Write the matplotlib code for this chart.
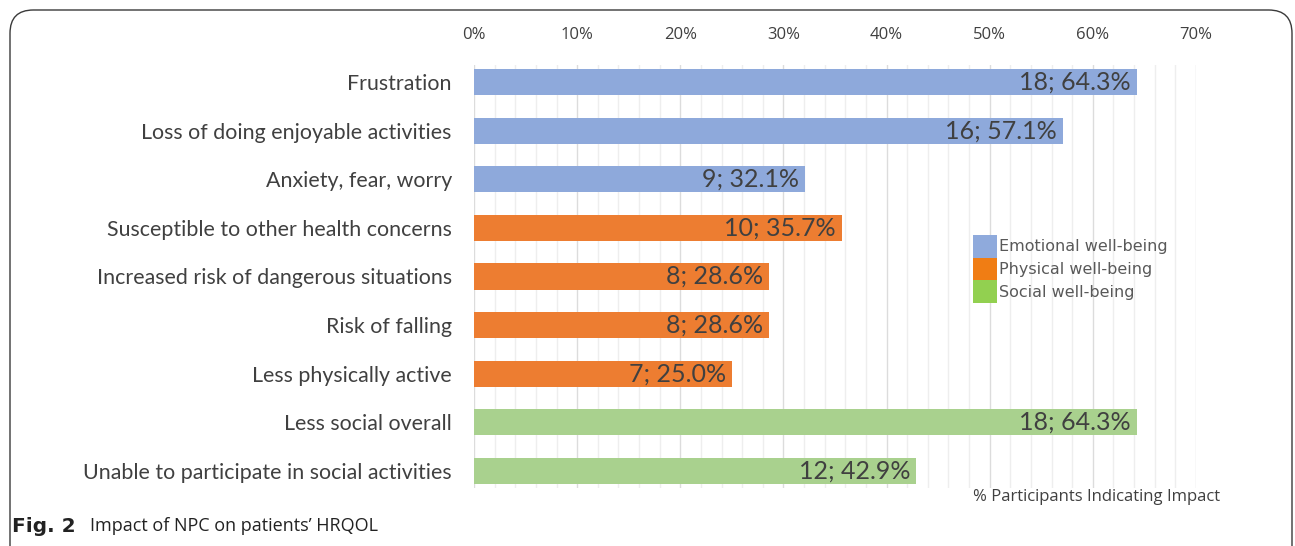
import matplotlib
matplotlib.use("Agg")
import matplotlib.pyplot as plt
from matplotlib.patches import FancyBboxPatch, Patch
from matplotlib.ticker import MultipleLocator, FuncFormatter

categories = ["Frustration", "Loss of doing enjoyable activities", "Anxiety, fear, worry",
              "Susceptible to other health concerns", "Increased risk of dangerous situations",
              "Risk of falling", "Less physically active", "Less social overall",
              "Unable to participate in social activities"]
counts = [18, 16, 9, 10, 8, 8, 7, 18, 12]
percents = [64.3, 57.1, 32.1, 35.7, 28.6, 28.6, 25.0, 64.3, 42.9]
groups = ["Emotional well-being"] * 3 + ["Physical well-being"] * 4 + ["Social well-being"] * 2
group_names = ["Emotional well-being", "Physical well-being", "Social well-being"]
bar_colors = {"Emotional well-being": "#8EA9DB", "Physical well-being": "#ED7D31",
              "Social well-being": "#A9D18E"}
legend_colors = {"Emotional well-being": "#8FAADC", "Physical well-being": "#F07D14",
                 "Social well-being": "#92D050"}

fig = plt.figure(figsize=(12.95, 5.46), dpi=100)
ax = fig.add_axes([474 / 1295, 1 - 488 / 546, (1196 - 474) / 1295, (488 - 65) / 546])

y = list(range(len(categories)))
ax.barh(y, percents, height=0.54, color=[bar_colors[g] for g in groups], zorder=2)
for yi, c, p in zip(y, counts, percents):
    ax.text(p - 0.6, yi, f"{c}; {p:.1f}%", ha="right", va="center", fontsize=18,
            family="Lato", color="#404040", zorder=3)

ax.set_xlim(0, 70)
ax.set_ylim(len(categories) - 1 + 0.35, -0.35)
ax.xaxis.set_major_locator(MultipleLocator(10))
ax.xaxis.set_minor_locator(MultipleLocator(2))
ax.xaxis.set_major_formatter(FuncFormatter(lambda v, _: f"{int(v)}%"))
ax.xaxis.tick_top()
ax.tick_params(axis="x", which="both", length=0, pad=15.5, labelsize=12, labelcolor="#404040")
ax.grid(axis="x", which="major", color="#DCDCDC", lw=1, zorder=0)
ax.grid(axis="x", which="minor", color="#EEEEEE", lw=1, zorder=0)
ax.set_yticks(y)
ax.set_yticklabels(categories, fontsize=15.4, family="Lato", color="#404040")
ax.tick_params(axis="y", length=0, pad=16)
for s in ax.spines.values():
    s.set_visible(False)
for lab in ax.get_xticklabels():
    lab.set_family("Open Sans")

handles = [Patch(facecolor=legend_colors[g], edgecolor="none", label=g) for g in group_names]
fig.legend(handles=handles, loc="upper left", bbox_to_anchor=(973 / 1295, 1 - 235 / 546),
           frameon=False, fontsize=11.5, handlelength=1.5, handleheight=1.8,
           handletextpad=0.15, labelspacing=0.0, borderpad=0, borderaxespad=0,
           labelcolor="#595959")

fig.text(1097 / 1295, 1 - 497 / 546, "% Participants Indicating Impact", ha="center",
         va="center", fontsize=12, family="Open Sans", color="#404040")

frame = FancyBboxPatch((10 / 1295, -0.05), 1282 / 1295, 1.05 - 10 / 546,
                       boxstyle="round,pad=0,rounding_size=0.018", transform=fig.transFigure,
                       facecolor="none", edgecolor="#3a3a3a", lw=1.0, mutation_aspect=1295 / 546)
fig.patches.append(frame)

fig.text(12 / 1295, 1 - 526 / 546, "Fig. 2", ha="left", va="center", fontsize=14.5,
         family="DejaVu Sans", fontweight="bold", color="#222222")
fig.text(90 / 1295, 1 - 526 / 546, "Impact of NPC on patients\u2019 HRQOL", ha="left",
         va="center", fontsize=13, family="Open Sans", color="#222222")

fig.savefig("out.png", dpi=100)
